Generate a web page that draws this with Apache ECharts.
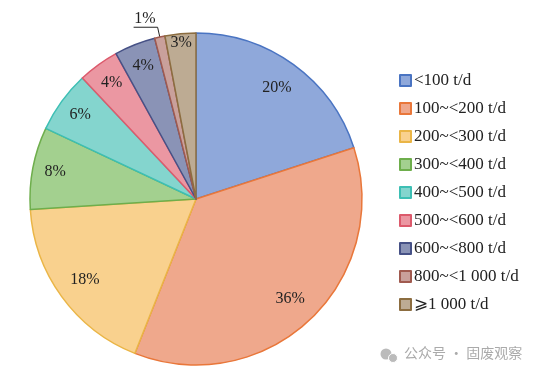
<!DOCTYPE html>
<html><head><meta charset="utf-8">
<script src="https://cdn.jsdelivr.net/npm/echarts@6/dist/echarts.min.js"></script>
<style>html,body{margin:0;padding:0;background:#fff}#c{width:542px;height:378px}</style>
</head><body><div id="c"></div>
<script>
const categories = ['<100 t/d','100~<200 t/d','200~<300 t/d','300~<400 t/d','400~<500 t/d','500~<600 t/d','600~<800 t/d','800~<1 000 t/d','⩾1 000 t/d'];
const values = [20,36,18,8,6,4,4,1,3];
const fillColors = ['#8fa8da','#efa88c','#f9d18e','#a3d08f','#84d5ce','#eb97a2','#8a93b6','#c9a09b','#bdab93'];
const borderColors = ['#4a74c2','#e9773a','#eab546','#6eae4c','#3dbfb4','#dc5a6c','#465186','#a05a4f','#8c6d40'];
const outsideIndex = 7;
// which inner label ring each slice label sits on (-1 = outside label)
const labelRingOf = [0,0,0,1,1,1,1,-1,2];
const ringFractions = [0.81, 0.845, 0.93];

const chart = echarts.init(document.getElementById('c'));
const center = [196, 199];
const R = 166;
const serif = '"Liberation Serif","Times New Roman",serif';

const mainData = categories.map((n,i)=>({
  name:n, value:values[i],
  itemStyle:{color:fillColors[i], borderColor:borderColors[i], borderWidth:1.5},
  label: i===outsideIndex ? {show:true} : {show:false},
  labelLine: i===outsideIndex ? {show:true} : {show:false}
}));

const labelSeries = ringFractions.map((f,ring)=>({
  type:'pie', center:center, radius:[0,R*f*2], startAngle:90, clockwise:true,
  data:categories.map((n,i)=>({name:n, value:values[i], label:{show: labelRingOf[i]===ring}})),
  silent:true, legendHoverLink:false,
  itemStyle:{color:'rgba(0,0,0,0)', borderWidth:0},
  label:{position:'inside', formatter:'{c}%', fontFamily:serif, fontSize:16, color:'#222'},
  labelLine:{show:false}
}));

chart.setOption({
  animation:false,
  legend:{
    orient:'vertical', left:394, top:67, itemWidth:11, itemHeight:11, itemGap:11,
    icon:'rect',
    textStyle:{fontFamily:serif, fontSize:17, color:'#222', padding:[0,0,0,-2]},
    data:categories
  },
  series:[
    {
      type:'pie', center:center, radius:[0,R], startAngle:90, clockwise:true,
      data:mainData, silent:true,
      label:{position:'outside', formatter:'{c}%\n ', fontFamily:serif, fontSize:16, lineHeight:17, color:'#222',
             distanceToLabelLine:0, padding:[0,-22,0,0]},
      labelLine:{length:10, length2:24, lineStyle:{color:'#222', width:1}, smooth:false}
    }
  ].concat(labelSeries),
  graphic:[
    {type:'circle', shape:{cx:386, cy:354, r:5.5}, style:{fill:'#bbb'}},
    {type:'circle', shape:{cx:393, cy:358, r:4.5}, style:{fill:'#bbb', stroke:'#fff', lineWidth:1}},
    {type:'text', left:404, top:346, style:{text:'公众号 · 固废观察', fill:'#aaa', font:'14px "Noto Sans CJK SC"'}}
  ]
});
</script></body></html>
